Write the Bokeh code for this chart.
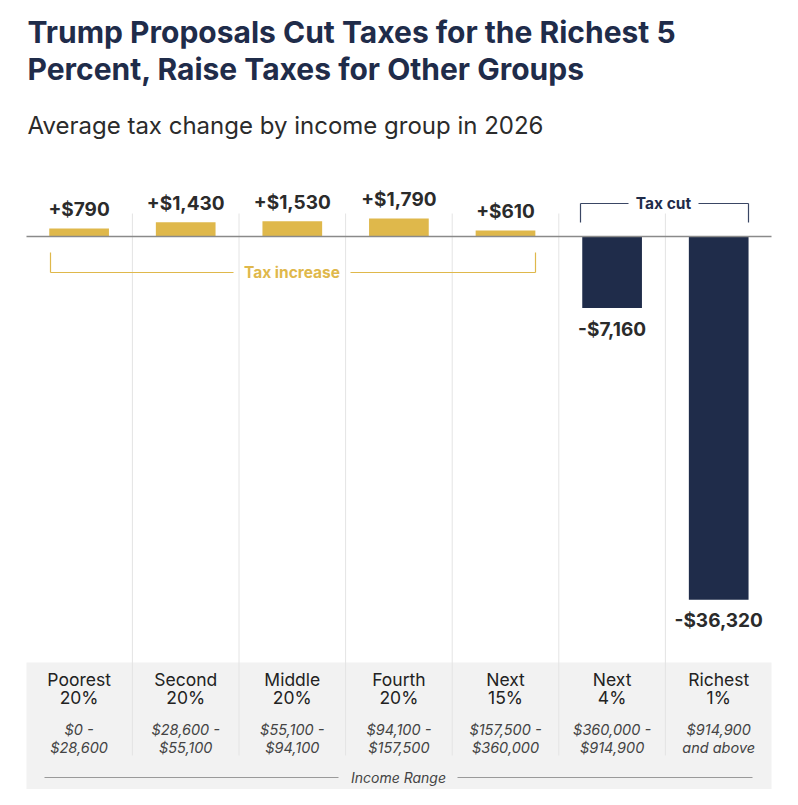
from bokeh.plotting import figure
from bokeh.models import Range1d
from bokeh.core.properties import value
from bokeh.embed import file_html
from bokeh.resources import INLINE

# ---- data ----
groups_line1 = ["Poorest", "Second", "Middle", "Fourth", "Next", "Next", "Richest"]
groups_line2 = ["20%", "20%", "20%", "20%", "15%", "4%", "1%"]
range_line1 = ["$0 -", "$28,600 -", "$55,100 -", "$94,100 -", "$157,500 -", "$360,000 -", "$914,900"]
range_line2 = ["$28,600", "$55,100", "$94,100", "$157,500", "$360,000", "$914,900", "and above"]
tax_change = [790, 1430, 1530, 1790, 610, -7160, -36320]

title_lines = ["Trump Proposals Cut Taxes for the Richest 5",
               "Percent, Raise Taxes for Other Groups"]
subtitle = "Average tax change by income group in 2026"

GOLD = "#dfb84b"
NAVY = "#1f2c4a"
FONT = "Inter"

# ---- layout helpers (reference pixel -> data coordinates) ----
COL0 = 78.6   # pixel centre of first column
COLW = 106.6  # pixel width of a column
ZERO_Y = 236  # pixel row of zero line
DPP = 100.0   # dollars per pixel


def dx(X):
    return (X - COL0) / COLW


def dy(Y):
    return (ZERO_Y - Y) * DPP


W, H = 782, 789
p = figure(width=W, height=H, output_backend="svg", toolbar_location=None,
           x_range=Range1d(dx(0), dx(W)), y_range=Range1d(dy(H), dy(0)),
           min_border=0, min_border_left=0, min_border_right=0,
           min_border_top=0, min_border_bottom=0)
p.axis.visible = False
p.grid.visible = False
p.outline_line_color = None
p.background_fill_color = "white"
p.border_fill_color = "white"

n = len(tax_change)
xs = list(range(n))

# gray category box
p.quad(left=[dx(26)], right=[dx(771)], top=[dy(662)], bottom=[dy(795)],
       fill_color="#f2f2f2", line_color=None)

# vertical separators
for i in range(n - 1):
    p.segment(x0=[i + 0.5], x1=[i + 0.5], y0=[dy(213)], y1=[dy(755)],
              line_color="#e4e4e4", line_width=1)

# bars
colors = [GOLD if v > 0 else NAVY for v in tax_change]
p.vbar(x=xs, top=tax_change, bottom=0, width=0.56, fill_color=colors, line_color=None)

# zero line
p.segment(x0=[dx(26)], x1=[dx(771)], y0=[0], y1=[0], line_color="#8a8a8a", line_width=1.5)

# value labels
for i, v in enumerate(tax_change):
    if v > 0:
        lab = f"+${v:,}"
        yy = v + 19 * DPP
    else:
        lab = f"-${abs(v):,}"
        yy = v - 21 * DPP
    p.text(x=[i], y=[yy], text=[lab], text_align="center", text_baseline="middle",
           text_font=value(FONT), text_font_style="bold", text_font_size="19px",
           text_color="#2b2b2b")

# tax increase bracket
inc_y = dy(272)
p.segment(x0=[dx(50), dx(535)], x1=[dx(50), dx(535)], y0=[dy(252), dy(252)], y1=[inc_y, inc_y],
          line_color=GOLD, line_width=1.2)
p.segment(x0=[dx(50), dx(350)], x1=[dx(233), dx(535)], y0=[inc_y, inc_y], y1=[inc_y, inc_y],
          line_color=GOLD, line_width=1.2)
p.text(x=[dx(291.5)], y=[inc_y], text=["Tax increase"], text_align="center", text_baseline="middle",
       text_font=value(FONT), text_font_style="bold", text_font_size="15.5px", text_color=GOLD)

# tax cut bracket
cut_y = dy(203)
p.segment(x0=[dx(580), dx(748)], x1=[dx(580), dx(748)], y0=[dy(222), dy(222)], y1=[cut_y, cut_y],
          line_color="#3a4664", line_width=1.2)
p.segment(x0=[dx(580), dx(698)], x1=[dx(628), dx(748)], y0=[cut_y, cut_y], y1=[cut_y, cut_y],
          line_color="#3a4664", line_width=1.2)
p.text(x=[dx(663)], y=[cut_y], text=["Tax cut"], text_align="center", text_baseline="middle",
       text_font=value(FONT), text_font_style="bold", text_font_size="15.5px", text_color=NAVY)

# category labels
p.text(x=xs, y=[dy(679)] * n, text=groups_line1, text_align="center", text_baseline="middle",
       text_font=value(FONT), text_font_size="17.5px", text_color="#222222")
p.text(x=xs, y=[dy(697)] * n, text=groups_line2, text_align="center", text_baseline="middle",
       text_font=value(FONT), text_font_size="17.5px", text_color="#222222")
p.text(x=xs, y=[dy(729)] * n, text=range_line1, text_align="center", text_baseline="middle",
       text_font=value(FONT), text_font_style="italic", text_font_size="14.5px", text_color="#444444")
p.text(x=xs, y=[dy(747)] * n, text=range_line2, text_align="center", text_baseline="middle",
       text_font=value(FONT), text_font_style="italic", text_font_size="14.5px", text_color="#444444")

# income range axis caption
ir_y = dy(777)
p.segment(x0=[dx(44), dx(457)], x1=[dx(338), dx(752)], y0=[ir_y, ir_y], y1=[ir_y, ir_y],
          line_color="#9a9a9a", line_width=1)
p.text(x=[dx(398)], y=[ir_y], text=["Income Range"], text_align="center", text_baseline="middle",
       text_font=value(FONT), text_font_style="italic", text_font_size="14px", text_color="#444444")

# titles
for k, t in enumerate(title_lines):
    p.text(x=[dx(27)], y=[dy(31 + 37 * k)], text=[t], text_align="left", text_baseline="middle",
           text_font=value(FONT), text_font_style="bold", text_font_size="30px", text_color=NAVY)
p.text(x=[dx(27)], y=[dy(125)], text=[subtitle], text_align="left", text_baseline="middle",
       text_font=value(FONT), text_font_size="24px", text_color="#2b2b2b")

open("out.html", "w").write(file_html(p, INLINE))
